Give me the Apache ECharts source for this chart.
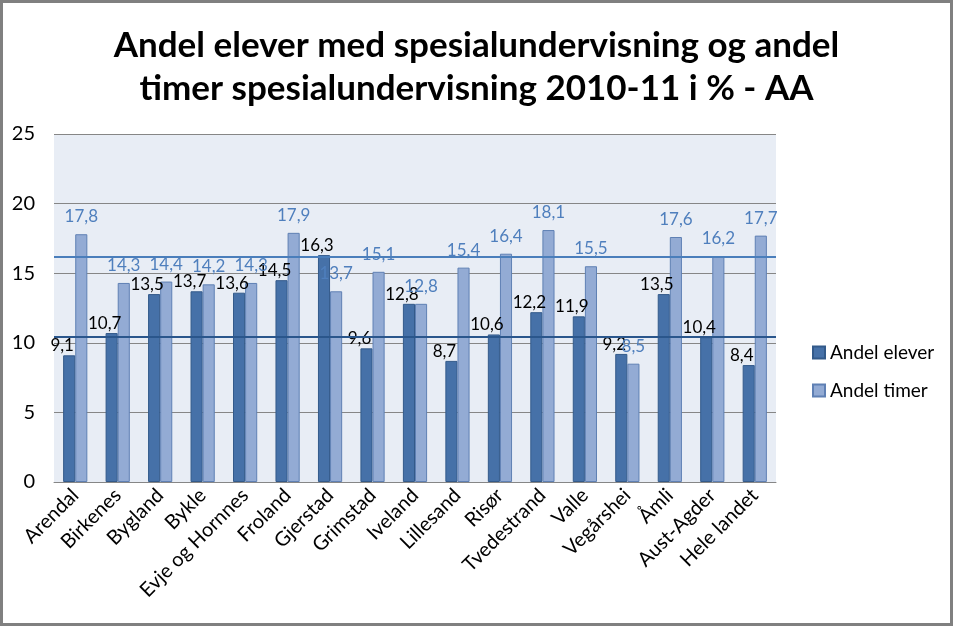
<!DOCTYPE html>
<html>
<head>
<meta charset="utf-8">
<script src="https://cdn.jsdelivr.net/npm/echarts@6/dist/echarts.min.js"></script>
<style>
html,body{margin:0;padding:0;background:#fff;}
#wrap{width:953px;height:626px;box-sizing:border-box;border:3px solid #808080;position:relative;overflow:hidden;}
#chart{position:absolute;left:-3px;top:-3px;width:953px;height:626px;}
</style>
</head>
<body>
<div id="wrap"><div id="chart"></div></div>
<script>
const titleText = 'Andel elever med spesialundervisning og andel\ntimer spesialundervisning 2010-11 i % - AA';
const categories = ['Arendal','Birkenes','Bygland','Bykle','Evje og Hornnes','Froland','Gjerstad','Grimstad','Iveland','Lillesand','Risør','Tvedestrand','Valle','Vegårshei','Åmli','Aust-Agder','Hele landet'];
const andelElever = [9.1,10.7,13.5,13.7,13.6,14.5,16.3,9.6,12.8,8.7,10.6,12.2,11.9,9.2,13.5,10.4,8.4];
const andelTimer = [17.8,14.3,14.4,14.2,14.3,17.9,13.7,15.1,12.8,15.4,16.4,18.1,15.5,8.5,17.6,16.2,17.7];
const seriesNames = ['Andel elever','Andel timer'];
const refElever = 10.4;
const refTimer = 16.2;
const yTicks = [0,5,10,15,20,25];

const font = 'Lato, Calibri, "Open Sans", sans-serif';
const fmt = p => String(p.value).replace('.', ',');

const chart = echarts.init(document.getElementById('chart'), null, {renderer:'canvas'});
chart.setOption({
  animation:false,
  backgroundColor:'#ffffff',
  textStyle:{fontFamily:font},
  title:{
    text:titleText, left:'center', top:19,
    textStyle:{fontFamily:font,fontWeight:'bold',fontSize:35,lineHeight:43,color:'#000'}
  },
  legend:{
    orient:'vertical', left:807, top:338, itemWidth:12, itemHeight:12, itemGap:19,
    icon:'rect',
    textStyle:{fontFamily:font,fontSize:19,color:'#000',padding:[0,0,0,0]},
    data:seriesNames
  },
  grid:{left:54,right:177,top:134,bottom:144,show:true,backgroundColor:'#e8edf5',borderWidth:0},
  xAxis:{
    type:'category', data:categories,
    axisLine:{show:true,lineStyle:{color:'#868686',width:1}},
    axisTick:{show:false},
    axisLabel:{rotate:45,interval:0,fontFamily:font,fontSize:20,color:'#000',margin:10}
  },
  yAxis:{
    type:'value', min:yTicks[0], max:yTicks[yTicks.length-1], interval:5,
    axisLine:{show:false}, axisTick:{show:false},
    axisLabel:{fontFamily:font,fontSize:20,color:'#000',margin:19},
    splitLine:{lineStyle:{color:'#868686',width:1}}
  },
  series:[
    {
      name:seriesNames[0], type:'bar', data:andelElever, barGap:'0%', barCategoryGap:'43%',
      itemStyle:{color:'#4671a8',borderColor:'#335a8a',borderWidth:1},
      label:{show:true,position:'top',distance:1,offset:[-7,0],formatter:fmt,fontFamily:font,fontSize:17,color:'#000'},
      markLine:{
        silent:true, symbol:'none', label:{show:false},
        lineStyle:{type:'solid',color:'#2a568c',width:2},
        data:[{yAxis:refElever}]
      }
    },
    {
      name:seriesNames[1], type:'bar', data:andelTimer,
      itemStyle:{color:'#93abd4',borderColor:'#5f80b4',borderWidth:1},
      label:{show:true,position:'top',distance:9,formatter:fmt,fontFamily:font,fontSize:17,color:'#4f7fbd'},
      markLine:{
        silent:true, symbol:'none', label:{show:false},
        lineStyle:{type:'solid',color:'#4a7ebb',width:2},
        data:[{yAxis:refTimer}]
      }
    }
  ]
});
</script>
</body>
</html>
